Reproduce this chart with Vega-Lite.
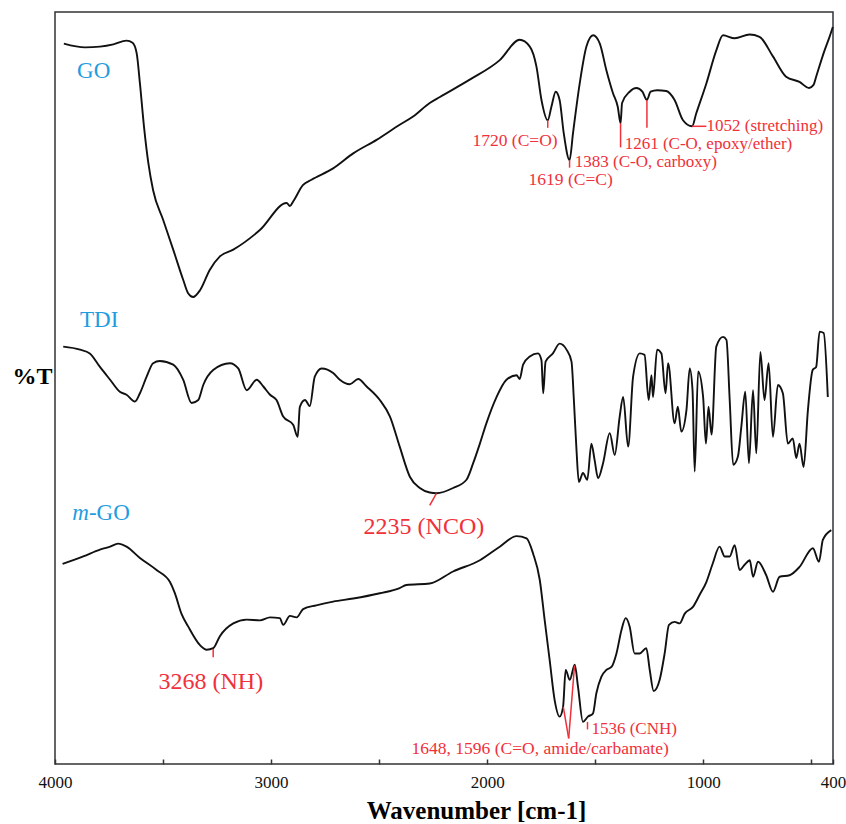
{
  "$schema": "https://vega.github.io/schema/vega-lite/v6.json",
  "width": 778,
  "height": 752,
  "autosize": {"type": "none"},
  "padding": {"left": 55, "top": 12, "right": 13, "bottom": 60},
  "background": "white",
  "config": {"view": {"stroke": "#333333", "strokeWidth": 1.5}, "font": "Liberation Serif"},
  "datasets": {
    "spectra": [
      {"s":"GO","wn":3959,"t":95.8},{"s":"GO","wn":3861,"t":95.3},{"s":"GO","wn":3792,"t":95.4},{"s":"GO","wn":3730,"t":95.7},
      {"s":"GO","wn":3669,"t":96.2},{"s":"GO","wn":3641,"t":95.9},{"s":"GO","wn":3622,"t":94.5},{"s":"GO","wn":3607,"t":90.5},
      {"s":"GO","wn":3588,"t":84.7},{"s":"GO","wn":3568,"t":79.9},{"s":"GO","wn":3546,"t":76.3},{"s":"GO","wn":3499,"t":72.3},
      {"s":"GO","wn":3453,"t":68.4},{"s":"GO","wn":3407,"t":64.4},{"s":"GO","wn":3384,"t":62.6},{"s":"GO","wn":3361,"t":62.1},
      {"s":"GO","wn":3329,"t":63.0},{"s":"GO","wn":3284,"t":65.7},{"s":"GO","wn":3237,"t":67.5},{"s":"GO","wn":3175,"t":68.4},
      {"s":"GO","wn":3052,"t":71.0},{"s":"GO","wn":2928,"t":74.6},{"s":"GO","wn":2913,"t":74.2},{"s":"GO","wn":2898,"t":74.8},
      {"s":"GO","wn":2852,"t":77.0},{"s":"GO","wn":2813,"t":77.7},{"s":"GO","wn":2713,"t":79.2},{"s":"GO","wn":2620,"t":81.2},
      {"s":"GO","wn":2512,"t":83.0},{"s":"GO","wn":2405,"t":85.0},{"s":"GO","wn":2343,"t":86.1},{"s":"GO","wn":2266,"t":87.9},
      {"s":"GO","wn":2219,"t":88.7},{"s":"GO","wn":2081,"t":91.0},{"s":"GO","wn":1942,"t":93.6},{"s":"GO","wn":1850,"t":96.3},
      {"s":"GO","wn":1803,"t":95.4},{"s":"GO","wn":1772,"t":92.7},{"s":"GO","wn":1749,"t":88.3},{"s":"GO","wn":1720,"t":85.6},
      {"s":"GO","wn":1703,"t":87.4},{"s":"GO","wn":1683,"t":89.4},{"s":"GO","wn":1665,"t":88.3},{"s":"GO","wn":1646,"t":83.9},
      {"s":"GO","wn":1619,"t":80.3},{"s":"GO","wn":1603,"t":83.9},{"s":"GO","wn":1572,"t":90.5},{"s":"GO","wn":1541,"t":95.4},
      {"s":"GO","wn":1510,"t":96.9},{"s":"GO","wn":1479,"t":95.8},{"s":"GO","wn":1449,"t":92.3},{"s":"GO","wn":1418,"t":89.2},
      {"s":"GO","wn":1396,"t":87.4},{"s":"GO","wn":1383,"t":85.2},{"s":"GO","wn":1376,"t":87.9},{"s":"GO","wn":1341,"t":89.4},
      {"s":"GO","wn":1310,"t":89.9},{"s":"GO","wn":1282,"t":89.4},{"s":"GO","wn":1261,"t":88.3},{"s":"GO","wn":1244,"t":89.4},
      {"s":"GO","wn":1214,"t":89.6},{"s":"GO","wn":1172,"t":89.5},{"s":"GO","wn":1133,"t":88.3},{"s":"GO","wn":1094,"t":85.6},
      {"s":"GO","wn":1052,"t":84.8},{"s":"GO","wn":1033,"t":86.5},{"s":"GO","wn":986,"t":90.5},{"s":"GO","wn":940,"t":94.9},
      {"s":"GO","wn":909,"t":96.9},{"s":"GO","wn":855,"t":96.5},{"s":"GO","wn":786,"t":97.0},{"s":"GO","wn":740,"t":96.7},
      {"s":"GO","wn":678,"t":94.1},{"s":"GO","wn":617,"t":91.4},{"s":"GO","wn":555,"t":90.7},{"s":"GO","wn":511,"t":89.9},
      {"s":"GO","wn":490,"t":90.3},{"s":"GO","wn":478,"t":91.4},{"s":"GO","wn":439,"t":94.9},{"s":"GO","wn":416,"t":96.7},
      {"s":"GO","wn":401,"t":98.0},

      {"s":"TDI","wn":3962,"t":55.5},{"s":"TDI","wn":3884,"t":55.1},{"s":"TDI","wn":3839,"t":54.6},{"s":"TDI","wn":3792,"t":52.8},
      {"s":"TDI","wn":3745,"t":51.1},{"s":"TDI","wn":3700,"t":49.5},{"s":"TDI","wn":3669,"t":49.1},{"s":"TDI","wn":3630,"t":48.2},
      {"s":"TDI","wn":3607,"t":49.3},{"s":"TDI","wn":3576,"t":51.5},{"s":"TDI","wn":3546,"t":53.3},{"s":"TDI","wn":3515,"t":53.6},
      {"s":"TDI","wn":3453,"t":53.1},{"s":"TDI","wn":3407,"t":51.1},{"s":"TDI","wn":3368,"t":48.0},{"s":"TDI","wn":3337,"t":48.4},
      {"s":"TDI","wn":3314,"t":50.4},{"s":"TDI","wn":3268,"t":52.4},{"s":"TDI","wn":3191,"t":53.3},{"s":"TDI","wn":3152,"t":52.6},
      {"s":"TDI","wn":3113,"t":49.7},{"s":"TDI","wn":3067,"t":51.1},{"s":"TDI","wn":3036,"t":50.2},{"s":"TDI","wn":3005,"t":49.1},
      {"s":"TDI","wn":2975,"t":48.4},{"s":"TDI","wn":2944,"t":46.2},{"s":"TDI","wn":2898,"t":45.1},{"s":"TDI","wn":2877,"t":43.5},
      {"s":"TDI","wn":2867,"t":47.5},{"s":"TDI","wn":2843,"t":48.4},{"s":"TDI","wn":2821,"t":47.6},{"s":"TDI","wn":2798,"t":51.5},
      {"s":"TDI","wn":2766,"t":52.6},{"s":"TDI","wn":2713,"t":52.0},{"s":"TDI","wn":2682,"t":51.1},{"s":"TDI","wn":2636,"t":50.5},
      {"s":"TDI","wn":2597,"t":51.2},{"s":"TDI","wn":2558,"t":50.2},{"s":"TDI","wn":2497,"t":48.4},{"s":"TDI","wn":2450,"t":46.2},
      {"s":"TDI","wn":2405,"t":42.2},{"s":"TDI","wn":2358,"t":38.2},{"s":"TDI","wn":2312,"t":36.7},{"s":"TDI","wn":2266,"t":36.1},
      {"s":"TDI","wn":2235,"t":36.0},{"s":"TDI","wn":2158,"t":36.7},{"s":"TDI","wn":2096,"t":37.8},{"s":"TDI","wn":2065,"t":40.0},
      {"s":"TDI","wn":2034,"t":42.6},{"s":"TDI","wn":2004,"t":45.3},{"s":"TDI","wn":1957,"t":48.8},{"s":"TDI","wn":1911,"t":51.1},
      {"s":"TDI","wn":1864,"t":51.7},{"s":"TDI","wn":1850,"t":51.2},{"s":"TDI","wn":1834,"t":53.1},{"s":"TDI","wn":1803,"t":54.2},
      {"s":"TDI","wn":1765,"t":54.6},{"s":"TDI","wn":1749,"t":53.7},{"s":"TDI","wn":1741,"t":49.3},{"s":"TDI","wn":1730,"t":53.5},
      {"s":"TDI","wn":1696,"t":54.6},{"s":"TDI","wn":1665,"t":55.9},{"s":"TDI","wn":1633,"t":55.1},{"s":"TDI","wn":1610,"t":53.5},
      {"s":"TDI","wn":1599,"t":48.4},{"s":"TDI","wn":1587,"t":41.8},{"s":"TDI","wn":1576,"t":37.5},{"s":"TDI","wn":1557,"t":38.7},
      {"s":"TDI","wn":1537,"t":37.8},{"s":"TDI","wn":1518,"t":42.6},{"s":"TDI","wn":1503,"t":40.4},{"s":"TDI","wn":1487,"t":38.0},
      {"s":"TDI","wn":1464,"t":40.0},{"s":"TDI","wn":1433,"t":44.0},{"s":"TDI","wn":1410,"t":41.1},{"s":"TDI","wn":1387,"t":46.2},
      {"s":"TDI","wn":1371,"t":48.8},{"s":"TDI","wn":1348,"t":42.2},{"s":"TDI","wn":1325,"t":51.5},{"s":"TDI","wn":1294,"t":54.6},
      {"s":"TDI","wn":1272,"t":54.4},{"s":"TDI","wn":1253,"t":48.4},{"s":"TDI","wn":1240,"t":51.7},{"s":"TDI","wn":1233,"t":48.8},
      {"s":"TDI","wn":1214,"t":55.1},{"s":"TDI","wn":1194,"t":54.6},{"s":"TDI","wn":1175,"t":49.3},{"s":"TDI","wn":1163,"t":53.3},
      {"s":"TDI","wn":1133,"t":45.3},{"s":"TDI","wn":1118,"t":47.5},{"s":"TDI","wn":1102,"t":44.2},{"s":"TDI","wn":1078,"t":47.1},
      {"s":"TDI","wn":1063,"t":52.6},{"s":"TDI","wn":1050,"t":49.7},{"s":"TDI","wn":1040,"t":38.9},{"s":"TDI","wn":1024,"t":52.2},
      {"s":"TDI","wn":1001,"t":48.8},{"s":"TDI","wn":988,"t":42.6},{"s":"TDI","wn":976,"t":47.5},{"s":"TDI","wn":962,"t":43.8},
      {"s":"TDI","wn":940,"t":55.5},{"s":"TDI","wn":909,"t":56.8},{"s":"TDI","wn":893,"t":56.4},{"s":"TDI","wn":878,"t":48.4},
      {"s":"TDI","wn":862,"t":39.8},{"s":"TDI","wn":840,"t":40.9},{"s":"TDI","wn":824,"t":44.9},{"s":"TDI","wn":806,"t":49.5},
      {"s":"TDI","wn":789,"t":40.0},{"s":"TDI","wn":770,"t":49.7},{"s":"TDI","wn":755,"t":41.3},{"s":"TDI","wn":736,"t":54.8},
      {"s":"TDI","wn":717,"t":48.4},{"s":"TDI","wn":698,"t":53.3},{"s":"TDI","wn":678,"t":43.5},{"s":"TDI","wn":655,"t":50.4},
      {"s":"TDI","wn":632,"t":49.3},{"s":"TDI","wn":609,"t":42.6},{"s":"TDI","wn":586,"t":43.3},{"s":"TDI","wn":570,"t":40.7},
      {"s":"TDI","wn":555,"t":42.6},{"s":"TDI","wn":536,"t":39.5},{"s":"TDI","wn":516,"t":47.1},{"s":"TDI","wn":494,"t":52.4},
      {"s":"TDI","wn":478,"t":52.8},{"s":"TDI","wn":462,"t":57.5},{"s":"TDI","wn":443,"t":57.3},{"s":"TDI","wn":424,"t":48.8},

      {"s":"mGO","wn":3965,"t":26.6},{"s":"mGO","wn":3869,"t":27.6},{"s":"mGO","wn":3792,"t":28.5},{"s":"mGO","wn":3745,"t":28.9},
      {"s":"mGO","wn":3708,"t":29.3},{"s":"mGO","wn":3669,"t":28.9},{"s":"mGO","wn":3607,"t":27.4},{"s":"mGO","wn":3530,"t":25.8},
      {"s":"mGO","wn":3468,"t":24.2},{"s":"mGO","wn":3445,"t":22.7},{"s":"mGO","wn":3415,"t":20.0},{"s":"mGO","wn":3384,"t":18.3},
      {"s":"mGO","wn":3329,"t":15.8},{"s":"mGO","wn":3298,"t":15.2},{"s":"mGO","wn":3268,"t":15.4},{"s":"mGO","wn":3237,"t":17.0},
      {"s":"mGO","wn":3175,"t":18.7},{"s":"mGO","wn":3113,"t":19.2},{"s":"mGO","wn":3052,"t":19.1},{"s":"mGO","wn":3005,"t":19.5},
      {"s":"mGO","wn":2960,"t":19.4},{"s":"mGO","wn":2944,"t":18.5},{"s":"mGO","wn":2913,"t":19.7},{"s":"mGO","wn":2882,"t":19.5},
      {"s":"mGO","wn":2852,"t":20.6},{"s":"mGO","wn":2791,"t":21.1},{"s":"mGO","wn":2713,"t":21.6},{"s":"mGO","wn":2620,"t":22.0},
      {"s":"mGO","wn":2497,"t":22.7},{"s":"mGO","wn":2405,"t":23.4},{"s":"mGO","wn":2374,"t":23.8},{"s":"mGO","wn":2266,"t":24.0},
      {"s":"mGO","wn":2158,"t":25.6},{"s":"mGO","wn":2034,"t":27.1},{"s":"mGO","wn":1942,"t":28.9},{"s":"mGO","wn":1864,"t":30.3},
      {"s":"mGO","wn":1818,"t":30.0},{"s":"mGO","wn":1788,"t":28.0},{"s":"mGO","wn":1757,"t":24.5},{"s":"mGO","wn":1734,"t":19.1},
      {"s":"mGO","wn":1711,"t":13.8},{"s":"mGO","wn":1688,"t":8.5},{"s":"mGO","wn":1665,"t":6.3},{"s":"mGO","wn":1649,"t":7.6},
      {"s":"mGO","wn":1637,"t":12.5},{"s":"mGO","wn":1618,"t":11.2},{"s":"mGO","wn":1595,"t":13.2},{"s":"mGO","wn":1580,"t":10.3},
      {"s":"mGO","wn":1557,"t":5.6},{"s":"mGO","wn":1534,"t":6.3},{"s":"mGO","wn":1511,"t":6.7},{"s":"mGO","wn":1495,"t":9.4},
      {"s":"mGO","wn":1472,"t":11.6},{"s":"mGO","wn":1449,"t":12.5},{"s":"mGO","wn":1425,"t":12.9},{"s":"mGO","wn":1402,"t":14.7},
      {"s":"mGO","wn":1379,"t":17.8},{"s":"mGO","wn":1359,"t":19.4},{"s":"mGO","wn":1341,"t":18.3},{"s":"mGO","wn":1318,"t":14.7},
      {"s":"mGO","wn":1295,"t":14.7},{"s":"mGO","wn":1264,"t":15.4},{"s":"mGO","wn":1248,"t":12.5},{"s":"mGO","wn":1230,"t":9.7},
      {"s":"mGO","wn":1202,"t":11.2},{"s":"mGO","wn":1179,"t":14.7},{"s":"mGO","wn":1159,"t":18.5},{"s":"mGO","wn":1133,"t":18.9},
      {"s":"mGO","wn":1110,"t":18.7},{"s":"mGO","wn":1086,"t":20.0},{"s":"mGO","wn":1048,"t":20.9},{"s":"mGO","wn":1017,"t":22.5},
      {"s":"mGO","wn":986,"t":24.2},{"s":"mGO","wn":956,"t":26.7},{"s":"mGO","wn":925,"t":28.9},{"s":"mGO","wn":901,"t":27.6},
      {"s":"mGO","wn":878,"t":27.6},{"s":"mGO","wn":855,"t":29.1},{"s":"mGO","wn":832,"t":25.8},{"s":"mGO","wn":809,"t":26.5},
      {"s":"mGO","wn":785,"t":27.1},{"s":"mGO","wn":770,"t":24.9},{"s":"mGO","wn":747,"t":26.9},{"s":"mGO","wn":709,"t":25.1},
      {"s":"mGO","wn":678,"t":22.9},{"s":"mGO","wn":647,"t":24.9},{"s":"mGO","wn":601,"t":25.1},{"s":"mGO","wn":555,"t":26.2},
      {"s":"mGO","wn":493,"t":28.7},{"s":"mGO","wn":465,"t":26.9},{"s":"mGO","wn":447,"t":29.8},{"s":"mGO","wn":408,"t":31.1}
    ],
    "leaders": [
      {"wn":1720,"t":85.6,"wn2":1720,"t2":84.6},
      {"wn":1619,"t":80.3,"wn2":1619,"t2":79.3},
      {"wn":1383,"t":85.2,"wn2":1383,"t2":82.0},
      {"wn":1261,"t":88.3,"wn2":1261,"t2":84.6},
      {"wn":1052,"t":84.8,"wn2":986,"t2":84.8},
      {"wn":2235,"t":36.0,"wn2":2266,"t2":34.4},
      {"wn":3268,"t":15.3,"wn2":3268,"t2":14.2},
      {"wn":1648,"t":7.6,"wn2":1623,"t2":3.4},
      {"wn":1596,"t":13.1,"wn2":1623,"t2":3.4},
      {"wn":1536,"t":5.6,"wn2":1536,"t2":4.6}
    ],
    "notes": [
      {"kind":"L18","wn":1595,"t":80.1,"label":"1383 (C-O, carboxy)"},
      {"kind":"L18","wn":1364,"t":82.5,"label":"1261 (C-O, epoxy/ether)"},
      {"kind":"L18","wn":985,"t":84.9,"label":"1052 (stretching)"},
      {"kind":"L18","wn":1518,"t":4.6,"label":"1536 (CNH)"},
      {"kind":"C18","wn":1614,"t":77.7,"label":"1619 (C=C)"},
      {"kind":"C18","wn":1755,"t":2.0,"label":"1648, 1596 (C=O, amide/carbamate)"},
      {"kind":"R18","wn":1674,"t":82.8,"label":"1720 (C=O)"},
      {"kind":"C24","wn":2293,"t":31.5,"label":"2235 (NCO)"},
      {"kind":"C24","wn":3279,"t":10.9,"label":"3268 (NH)"},
      {"kind":"S","wn":3898,"t":92.2,"label":"GO"},
      {"kind":"S","wn":3884,"t":59.0,"label":"TDI"},
      {"kind":"S","wn":3843,"t":33.4,"label":"-GO"},
      {"kind":"Si","wn":3843,"t":33.4,"label":"m"}
    ]
  },
  "encoding": {
    "x": {
      "field": "wn",
      "type": "quantitative",
      "scale": {"domain": [400, 4000], "reverse": true, "nice": false, "zero": false},
      "axis": {
        "title": "Wavenumber [cm-1]",
        "values": [4000, 3500, 3000, 2500, 2000, 1500, 1000, 500, 400],
        "format": "d",
        "labelExpr": "(datum.value % 1000 === 0 || datum.value === 400) ? datum.label : ''",
        "labelFlush": false,
        "labelOverlap": false,
        "labelFont": "Liberation Serif",
        "labelFontSize": 17,
        "labelColor": "#111111",
        "labelPadding": 15,
        "tickSize": -5,
        "tickColor": "#333333",
        "tickWidth": 1.5,
        "domain": false,
        "grid": false,
        "titleFont": "Liberation Serif",
        "titleFontSize": 25,
        "titleFontWeight": "bold",
        "titleColor": "#000000",
        "titleX": 421,
        "titleY": 46,
        "titleAlign": "center",
        "titleBaseline": "middle"
      }
    },
    "y": {
      "field": "t",
      "type": "quantitative",
      "scale": {"domain": [0, 100], "nice": false, "zero": false},
      "axis": {
        "title": "%T",
        "titleAngle": 0,
        "titleFont": "Liberation Serif",
        "titleFontSize": 24,
        "titleFontWeight": "bold",
        "titleColor": "#000000",
        "titleX": -23,
        "titleY": 364,
        "titleAlign": "center",
        "titleBaseline": "middle",
        "labels": false,
        "ticks": false,
        "domain": false,
        "grid": false
      }
    }
  },
  "layer": [
    {
      "data": {"name": "spectra"},
      "mark": {"type": "line", "color": "#111111", "strokeWidth": 1.9, "strokeJoin": "round", "interpolate": "monotone"},
      "encoding": {"detail": {"field": "s"}}
    },
    {
      "data": {"name": "leaders"},
      "mark": {"type": "rule", "color": "#f0303a", "strokeWidth": 1.5},
      "encoding": {"x2": {"field": "wn2"}, "y2": {"field": "t2"}}
    },
    {
      "data": {"name": "notes"},
      "transform": [{"filter": "datum.kind === 'L18'"}],
      "mark": {"type": "text", "align": "left", "baseline": "middle", "font": "Liberation Serif", "fontSize": 17, "color": "#f0303a"},
      "encoding": {"text": {"field": "label"}}
    },
    {
      "data": {"name": "notes"},
      "transform": [{"filter": "datum.kind === 'C18'"}],
      "mark": {"type": "text", "align": "center", "baseline": "middle", "font": "Liberation Serif", "fontSize": 17.5, "color": "#f0303a"},
      "encoding": {"text": {"field": "label"}}
    },
    {
      "data": {"name": "notes"},
      "transform": [{"filter": "datum.kind === 'R18'"}],
      "mark": {"type": "text", "align": "right", "baseline": "middle", "font": "Liberation Serif", "fontSize": 17.5, "color": "#f0303a"},
      "encoding": {"text": {"field": "label"}}
    },
    {
      "data": {"name": "notes"},
      "transform": [{"filter": "datum.kind === 'C24'"}],
      "mark": {"type": "text", "align": "center", "baseline": "middle", "font": "Liberation Serif", "fontSize": 24, "color": "#f0303a"},
      "encoding": {"text": {"field": "label"}}
    },
    {
      "data": {"name": "notes"},
      "transform": [{"filter": "datum.kind === 'S'"}],
      "mark": {"type": "text", "align": "left", "baseline": "middle", "font": "Liberation Serif", "fontSize": 23, "color": "#1f9de0"},
      "encoding": {"text": {"field": "label"}}
    },
    {
      "data": {"name": "notes"},
      "transform": [{"filter": "datum.kind === 'Si'"}],
      "mark": {"type": "text", "align": "right", "baseline": "middle", "font": "Liberation Serif", "fontSize": 23, "fontStyle": "italic", "color": "#1f9de0"},
      "encoding": {"text": {"field": "label"}}
    }
  ]
}
